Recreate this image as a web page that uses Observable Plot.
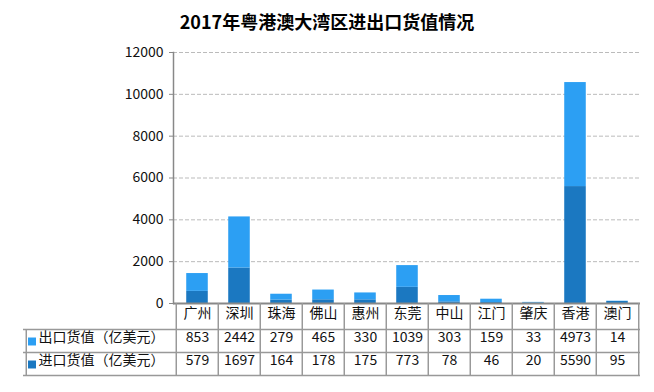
<!DOCTYPE html>
<html>
<head>
<meta charset="utf-8">
<script src="https://cdn.jsdelivr.net/npm/d3@7"></script>
<script src="https://cdn.jsdelivr.net/npm/@observablehq/plot@0.6"></script>
<style>
  body { margin: 0; background: #fff; font-family: "Noto Sans CJK SC", sans-serif; }
  #title { height: 42px; line-height: 42px; text-align: center; font-size: 18px; font-weight: bold; color: #000; width: 654px; }
</style>
</head>
<body>
<div id="title">2017年粤港澳大湾区进出口货值情况</div>
<div id="chart"></div>
<script>
const cities = ["广州","深圳","珠海","佛山","惠州","东莞","中山","江门","肇庆","香港","澳门"];
const exportVals = [853,2442,279,465,330,1039,303,159,33,4973,14];
const importVals = [579,1697,164,178,175,773,78,46,20,5590,95];
const seriesNames = ["进口货值（亿美元）","出口货值（亿美元）"];
const yTicks = [0,2000,4000,6000,8000,10000,12000];

const lightBlue = "#2c9ff3";
const darkBlue = "#1b78c1";

const rows = [];
cities.forEach((c, i) => {
  rows.push({city: c, series: seriesNames[0], value: importVals[i]});
  rows.push({city: c, series: seriesNames[1], value: exportVals[i]});
});

const W = 654, H = 350, mL = 173, mR = 14, mT = 10, mB = 89;
const plotH = H - mT - mB;
const step = (W - mL - mR) / cities.length;
const barInset = (step - 22) / 2;
const border = "#999";

const chart = Plot.plot({
  width: W, height: H,
  marginLeft: mL, marginRight: mR, marginTop: mT, marginBottom: mB,
  style: {fontFamily: "Noto Sans CJK SC", fontSize: "14px", color: "#111", background: "#fff"},
  x: {domain: cities, padding: 0, axis: null},
  y: {domain: [0, 12000], axis: null},
  color: {domain: seriesNames, range: [darkBlue, lightBlue]},
  marks: [
    Plot.gridY(yTicks.slice(1), {stroke: "#bbb", strokeOpacity: 1, strokeDasharray: "4,2"}),
    Plot.axisY({ticks: yTicks, tickFormat: d3.format("d"), tickSize: 4, tickPadding: 6, fontSize: 14, stroke: "#888", fill: "#111", label: null}),
    Plot.frame({anchor: "left", stroke: "#888", strokeWidth: 1.5}),
    Plot.barY(rows, Plot.stackY({x: "city", y: "value", fill: "series", insetLeft: barInset, insetRight: barInset})),
    // table borders
    Plot.ruleY([0], {stroke: "#888", strokeWidth: 2}),
    Plot.ruleY([0], {dy: 26, insetLeft: -150, stroke: border, strokeWidth: 1.5}),
    Plot.ruleY([0], {dy: 49, insetLeft: -150, stroke: border, strokeWidth: 1.5}),
    Plot.ruleY([0], {dy: 72, insetLeft: -150, stroke: border, strokeWidth: 1.5}),
    Plot.ruleX(cities, {x: d => d, dx: -step / 2, insetTop: plotH, insetBottom: -72, stroke: border, strokeWidth: 1.5}),
    Plot.ruleX([cities[cities.length - 1]], {x: d => d, dx: step / 2, insetTop: plotH, insetBottom: -72, stroke: border, strokeWidth: 1.5}),
    Plot.ruleX([cities[0]], {x: d => d, dx: -step / 2 - 150, insetTop: plotH + 26, insetBottom: -72, stroke: border, strokeWidth: 1.5}),
    // table text
    Plot.text(cities, {x: d => d, text: d => d, frameAnchor: "bottom", dy: 14, fontSize: 14, fill: "#111"}),
    Plot.text(cities, {x: d => d, text: (d, i) => String(exportVals[i]), frameAnchor: "bottom", dy: 38, fontSize: 14, fill: "#111"}),
    Plot.text(cities, {x: d => d, text: (d, i) => String(importVals[i]), frameAnchor: "bottom", dy: 61, fontSize: 14, fill: "#111"}),
    // legend in table
    Plot.dot([seriesNames[1]], {frameAnchor: "bottom-left", dx: -141.5, dy: 38, symbol: "square", r: 4.5, fill: lightBlue}),
    Plot.dot([seriesNames[0]], {frameAnchor: "bottom-left", dx: -141.5, dy: 61, symbol: "square", r: 4.5, fill: darkBlue}),
    Plot.text([seriesNames[1]], {frameAnchor: "bottom-left", text: d => d, dx: -135, dy: 38, textAnchor: "start", fontSize: 14, fill: "#111"}),
    Plot.text([seriesNames[0]], {frameAnchor: "bottom-left", text: d => d, dx: -135, dy: 61, textAnchor: "start", fontSize: 14, fill: "#111"})
  ]
});
document.getElementById("chart").appendChild(chart);
</script>
</body>
</html>
